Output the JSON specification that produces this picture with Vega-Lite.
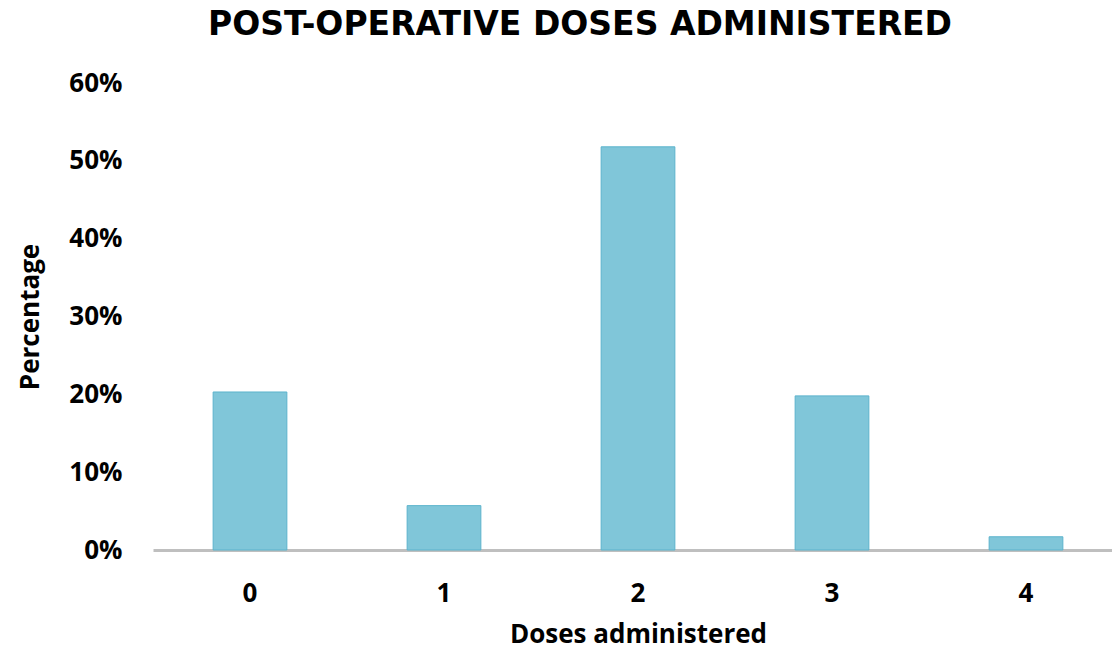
{
  "$schema": "https://vega.github.io/schema/vega-lite/v6.json",
  "autosize": "none",
  "padding": {"left": 153, "top": 83, "right": 0, "bottom": 101},
  "width": 970,
  "height": 467,
  "background": "white",
  "data": {"values": [
    {"doses": "0", "pct": 0.203},
    {"doses": "1", "pct": 0.057},
    {"doses": "2", "pct": 0.518},
    {"doses": "3", "pct": 0.198},
    {"doses": "4", "pct": 0.017}
  ]},
  "title": {
    "text": "POST-OPERATIVE DOSES ADMINISTERED",
    "font": "DejaVu Sans",
    "fontSize": 33,
    "fontWeight": "bold",
    "color": "#000000",
    "anchor": "middle",
    "dx": -58,
    "offset": 28
  },
  "mark": {"type": "bar", "fill": "#80c6d9", "stroke": "#5bb3cc", "strokeWidth": 1},
  "encoding": {
    "x": {
      "field": "doses", "type": "nominal", "sort": null,
      "scale": {"paddingInner": 0.62, "paddingOuter": 0.31},
      "axis": {
        "title": "Doses administered",
        "labelAngle": 0,
        "ticks": false,
        "domainColor": "#bfbfbf",
        "domainWidth": 3,
        "labelPadding": 30,
        "labelFont": "Open Sans", "labelFontSize": 26, "labelFontWeight": "bold", "labelColor": "#000000",
        "titleFont": "Open Sans", "titleFontSize": 26, "titleFontWeight": "bold", "titleColor": "#000000",
        "titlePadding": 15
      }
    },
    "y": {
      "field": "pct", "type": "quantitative",
      "scale": {"domain": [0, 0.6]},
      "axis": {
        "title": "Percentage",
        "format": ".0%",
        "values": [0, 0.1, 0.2, 0.3, 0.4, 0.5, 0.6],
        "grid": false,
        "domain": false,
        "ticks": false,
        "labelPadding": 31,
        "labelFont": "Open Sans", "labelFontSize": 26, "labelFontWeight": "bold", "labelColor": "#000000",
        "titleFont": "Open Sans", "titleFontSize": 26, "titleFontWeight": "bold", "titleColor": "#000000",
        "titlePadding": 25
      }
    }
  },
  "config": {"view": {"stroke": null}}
}
